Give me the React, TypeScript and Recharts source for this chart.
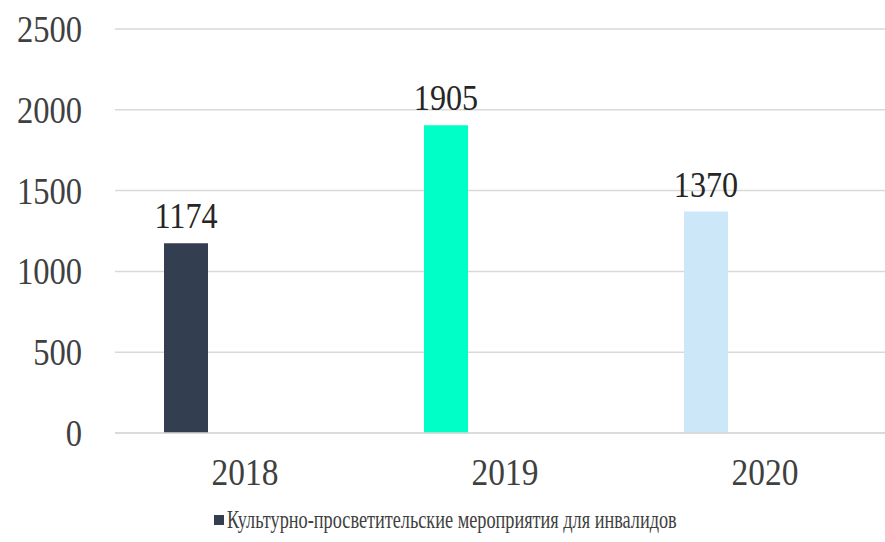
import React from 'react';
import { BarChart, Bar, XAxis, YAxis, CartesianGrid, Legend, LabelList, Cell } from 'recharts';

const years = ['2018', '2019', '2020'];
const events = [1174, 1905, 1370];
const emptySeries = [0, 0, 0];
const barColors = ['#333f50', '#00ffc6', '#cce8f8'];
const yTicks = [0, 500, 1000, 1500, 2000, 2500];
const seriesName = 'Культурно-просветительские мероприятия для инвалидов';

const data = years.map((year, i) => ({ year, events: events[i], empty: emptySeries[i] }));

const font = '"Liberation Serif", "Times New Roman", serif';

// the source uses a narrow Times, so squeeze the text horizontally
const YTick = (props: any) => {
  const { x, y, payload } = props;
  return (
    <text transform={`translate(${x},${y}) scale(0.88,1)`} textAnchor="end" dy="0.35em"
      fill="#404040" fontSize={37} fontFamily={font}>
      {payload.value}
    </text>
  );
};

const XTick = (props: any) => {
  const { x, y, payload } = props;
  return (
    <text transform={`translate(${x},${y}) scale(0.88,1)`} textAnchor="middle" dy="0.71em"
      fill="#404040" fontSize={38} fontFamily={font}>
      {payload.value}
    </text>
  );
};

const BarValue = (props: any) => {
  const { x, y, width, value } = props;
  return (
    <text transform={`translate(${x + width / 2},${y - 15}) scale(0.92,1)`} textAnchor="middle"
      fill="#262626" fontSize={35} fontFamily={font}>
      {value}
    </text>
  );
};

const LegendContent = () => (
  <div style={{ textAlign: 'center', fontFamily: font, fontSize: 25, color: '#404040', lineHeight: '30px' }}>
    <span style={{ display: 'inline-block', width: 10, height: 10, background: '#333f50', marginRight: 3, verticalAlign: 'middle' }} />
    <span style={{ display: 'inline-block', transform: 'scaleX(0.73)', transformOrigin: 'left center', width: 444, textAlign: 'left', whiteSpace: 'nowrap', verticalAlign: 'middle' }}>
      {seriesName}
    </span>
  </div>
);

const App: React.FC = () => {
  return (
    <div style={{ position: 'absolute', left: 0, top: 0, width: 885, height: 542, overflow: 'hidden', background: '#fff' }}>
      <BarChart
        width={905}
        height={542}
        data={data}
        margin={{ top: 29, right: 10, bottom: 0, left: 0 }}
        barSize={44}
        barGap={74}
      >
        <CartesianGrid vertical={false} stroke="#d9d9d9" strokeWidth={1.5} />
        <XAxis
          dataKey="year"
          axisLine={{ stroke: '#d9d9d9', strokeWidth: 1.5 }}
          tickLine={false}
          tickSize={0}
          tickMargin={25}
          height={70}
          tick={<XTick />}
        />
        <YAxis
          domain={[0, 2500]}
          ticks={yTicks}
          axisLine={false}
          tickLine={false}
          tickSize={0}
          tickMargin={33}
          width={115}
          tick={<YTick />}
        />
        <Legend
          verticalAlign="bottom"
          height={39}
          content={<LegendContent />}
          wrapperStyle={{ left: 0, width: 885 }}
        />
        <Bar dataKey="events" name={seriesName} fill="#333f50" isAnimationActive={false}>
          {data.map((d, i) => (
            <Cell key={d.year} fill={barColors[i]} />
          ))}
          <LabelList dataKey="events" content={<BarValue />} />
        </Bar>
        <Bar dataKey="empty" legendType="none" fill="#ffffff" isAnimationActive={false} />
      </BarChart>
    </div>
  );
};

export default App;
